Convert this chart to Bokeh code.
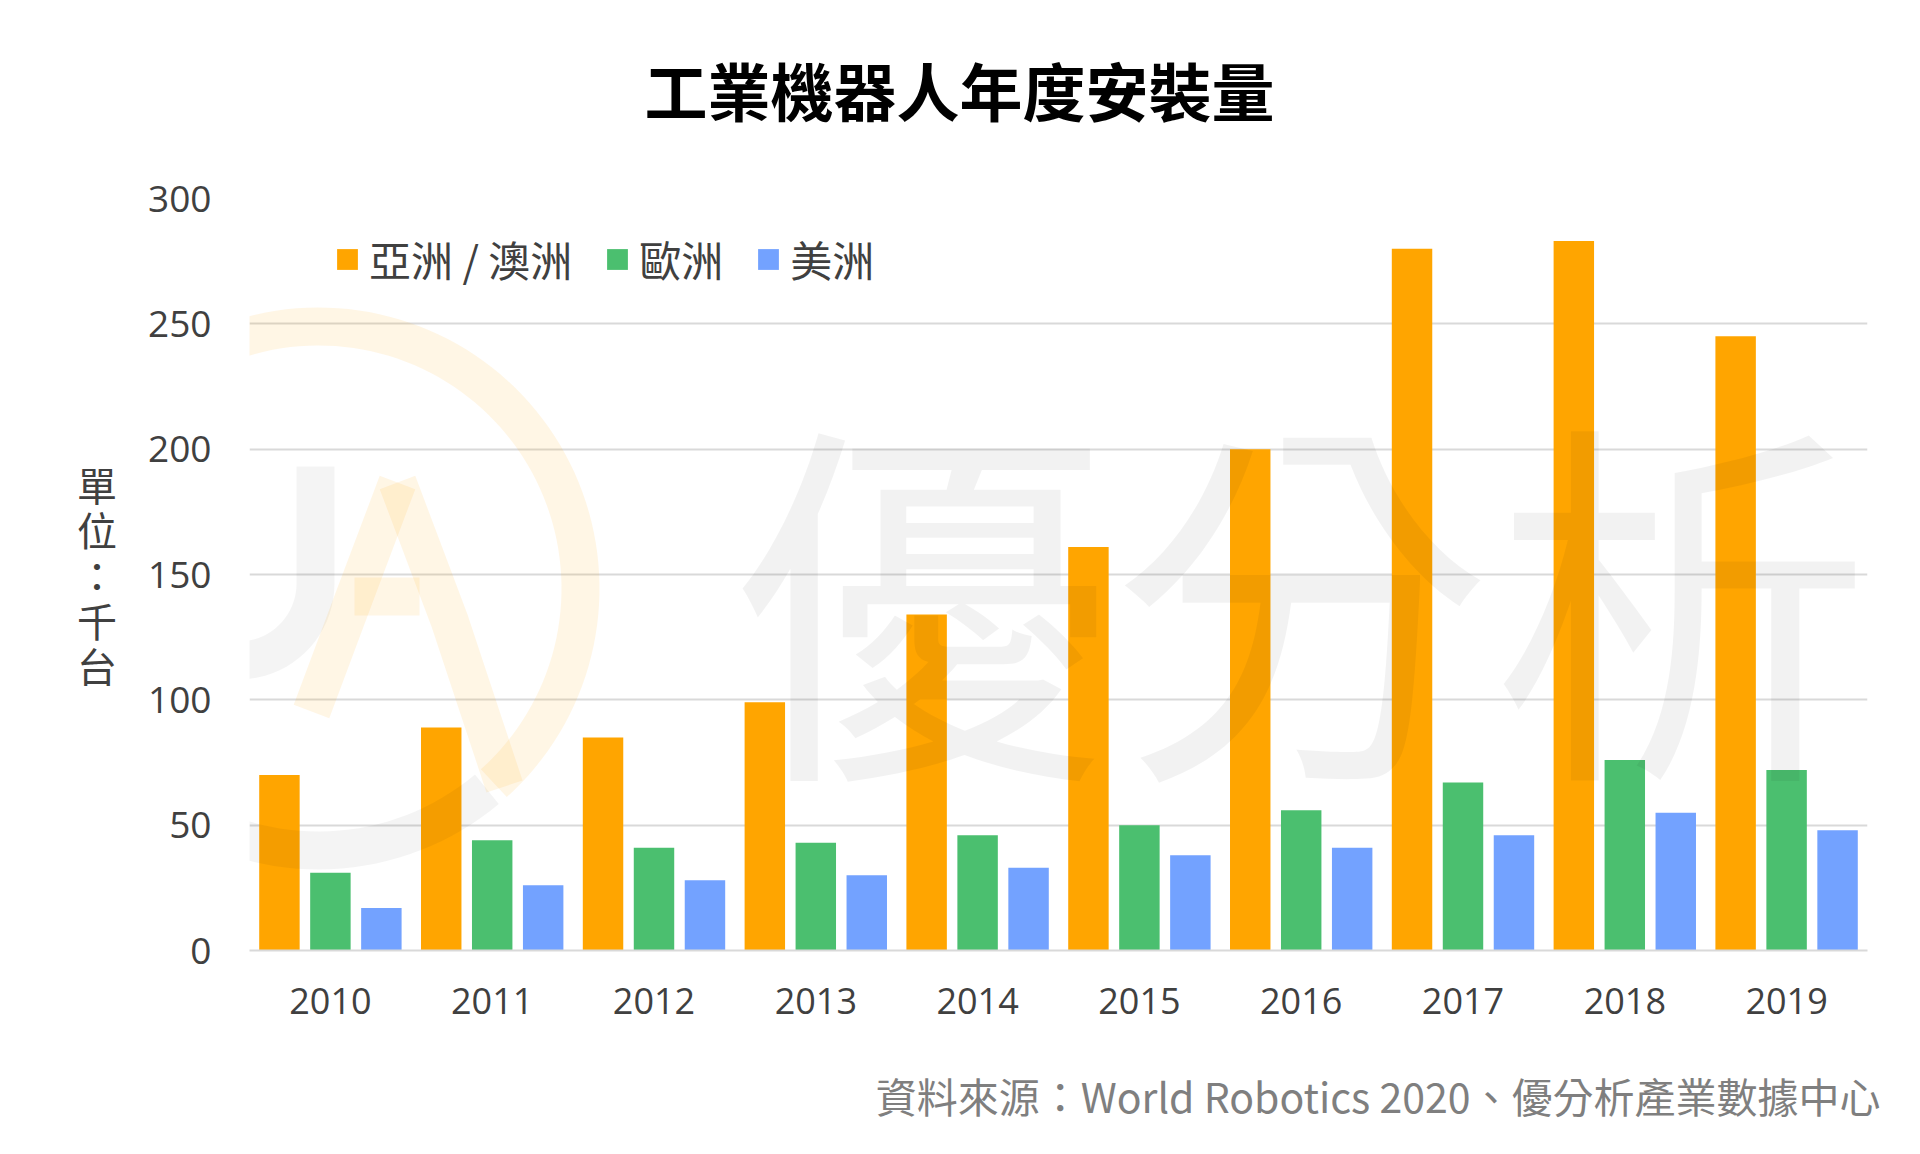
import numpy as np
from bokeh.plotting import figure
from bokeh.models import (ColumnDataSource, FixedTicker, Label, Legend,
                          LegendItem, PolyAnnotation, Title)
from bokeh.transform import dodge
from bokeh.embed import file_html
from bokeh.resources import INLINE

# ---------------- data ----------------
years = ["2010", "2011", "2012", "2013", "2014",
         "2015", "2016", "2017", "2018", "2019"]
asia = [70, 89, 85, 99, 134, 161, 200, 280, 283, 245]
europe = [31, 44, 41, 43, 46, 50, 56, 67, 76, 72]
americas = [17, 26, 28, 30, 33, 38, 41, 46, 55, 48]
series_names = ["亞洲 / 澳洲", "歐洲", "美洲"]
series_colors = ["#FFA500", "#4BBF6F", "#73A2FF"]
y_ticks = [0, 50, 100, 150, 200, 250, 300]
title_text = "工業機器人年度安裝量"
unit_text = "單\n位\n：\n千\n台"
source_text = "資料來源：World Robotics 2020、優分析產業數據中心"
watermark_text = "優分析"

CJK = "Noto Sans CJK TC"
LAT = "Open Sans"

src = ColumnDataSource(dict(year=years, asia=asia, europe=europe, americas=americas))

W, H = 1904, 1138
p = figure(width=W, height=H, x_range=years, y_range=(0, 300),
           output_backend="svg", toolbar_location=None,
           min_border_left=249, min_border_right=37,
           min_border_top=198, min_border_bottom=188)
p.background_fill_color = "white"
p.border_fill_color = "white"
p.outline_line_color = None

# ---------------- bars ----------------
offsets = [-0.315, 0.0, 0.315]
cols = ["asia", "europe", "americas"]
renderers = []
for col, off, c in zip(cols, offsets, series_colors):
    r = p.vbar(x=dodge("year", off, range=p.x_range), top=col, width=0.25,
               source=src, fill_color=c, line_color=None)
    renderers.append(r)

# ---------------- axes / grid ----------------
p.yaxis.ticker = FixedTicker(ticks=y_ticks)
p.ygrid.ticker = FixedTicker(ticks=y_ticks)
p.ygrid.grid_line_color = "#D9D9D9"
p.ygrid.grid_line_width = 2
p.xgrid.grid_line_color = None
for ax in (p.xaxis, p.yaxis):
    ax.major_tick_line_color = None
    ax.minor_tick_line_color = None
    ax.major_tick_out = 0
    ax.major_tick_in = 0
    ax.major_label_text_font = LAT
    ax.major_label_text_color = "#404040"
p.yaxis.major_label_text_font_size = "37px"
p.xaxis.major_label_text_font_size = "36px"
p.yaxis.axis_line_color = None
p.xaxis.axis_line_color = "#D9D9D9"
p.xaxis.axis_line_width = 2
p.yaxis.major_label_standoff = 38
p.xaxis.major_label_standoff = 37

# unit label as y-axis label, upright stacked characters
p.yaxis.axis_label = unit_text
p.yaxis.axis_label_text_font = CJK
p.yaxis.axis_label_text_font_size = "40px"
p.yaxis.axis_label_text_font_style = "normal"
p.yaxis.axis_label_text_color = "#404040"
p.yaxis.axis_label_text_line_height = 0.78
p.yaxis.axis_label_standoff = 28
try:
    p.yaxis.axis_label_orientation = "horizontal"
except Exception:
    pass

# ---------------- title & source (with spacers) ----------------
p.add_layout(Title(text=" ", text_font_size="2px", standoff=61), "above")
p.add_layout(Title(text=title_text, align="left", offset=395,
                   text_font=CJK, text_font_style="bold", text_font_size="63px",
                   text_color="#000000", standoff=0), "above")
p.add_layout(Title(text=" ", text_font_size="2px", standoff=42), "below")
p.add_layout(Title(text=source_text, align="right", offset=-13,
                   text_font=CJK, text_font_style="normal", text_font_size="41px",
                   text_color="#7F7F7F", standoff=0), "below")

# ---------------- legend ----------------
legend = Legend(items=[LegendItem(label=n, renderers=[r]) for n, r in zip(series_names, renderers)],
                orientation="horizontal", location=(85, 661),
                padding=0, margin=0, spacing=32, label_standoff=9,
                glyph_width=26, glyph_height=26, label_height=60,
                label_text_font=CJK, label_text_font_size="42px",
                label_text_color="#404040",
                border_line_color=None, background_fill_alpha=0)
p.add_layout(legend)

# ---------------- watermark logo (decoration) ----------------
def thick(points, w):
    pts = np.array(points, float)
    d = np.gradient(pts, axis=0)
    n = np.stack([-d[:, 1], d[:, 0]], axis=1)
    n /= np.linalg.norm(n, axis=1)[:, None]
    left = pts + n * w / 2
    right = pts - n * w / 2
    poly = np.vstack([left, right[::-1]])
    return list(poly[:, 0]), list(poly[:, 1])

def arc(cx, cy, r, a0, a1, n=80):
    t = np.radians(np.linspace(a0, a1, n))
    return list(zip(cx + r * np.cos(t), cy + r * np.sin(t)))

shapes = []
shapes.append((arc(69, 362, 262, 125, 310), "#000000", 0.045))
shapes.append((arc(69, 362, 262, -48, 120), "#FFA500", 0.10))
u_pts = [(-88, 580), (-88, 470)] + arc(-11, 367, 77, 180, 360, 40) + [(66, 420), (66, 484)]
shapes.append((u_pts, "#000000", 0.045))
shapes.append(([(62, 239), (105, 354), (148, 468)], "#FFA500", 0.10))
shapes.append(([(148, 468), (200, 330), (255, 164)], "#FFA500", 0.10))
shapes.append(([(105, 354), (170, 354)], "#FFA500", 0.10))
for pts, c, a in shapes:
    xs, ys = thick(pts, 38)
    p.add_layout(PolyAnnotation(xs=xs, ys=ys, xs_units="screen", ys_units="screen",
                                fill_color=c, fill_alpha=a, line_color=None))

p.add_layout(Label(x=1052, y=366, x_units="screen", y_units="screen", text=watermark_text,
                   text_align="center", text_baseline="middle", text_font=CJK,
                   text_font_size="380px", text_color="#000000", text_alpha=0.05))

open("out.html", "w").write(file_html(p, INLINE))
